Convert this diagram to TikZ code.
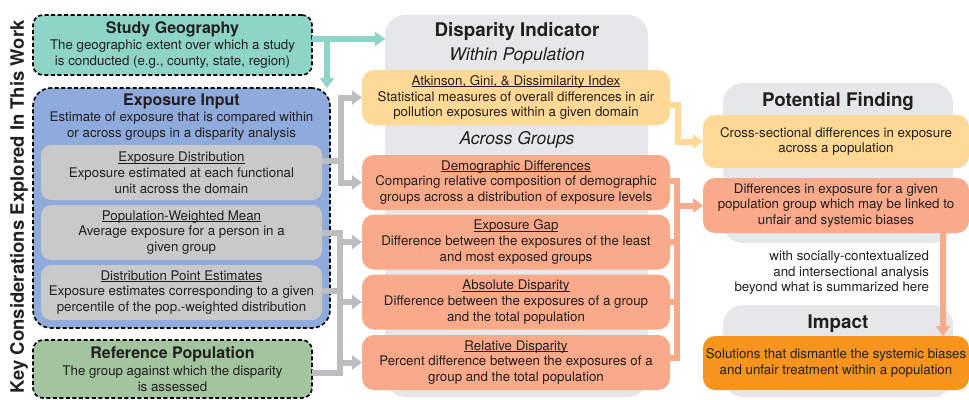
\documentclass[tikz,border=0pt]{standalone}
\usepackage{fontspec}
\setmainfont{TeX Gyre Heros}
\usetikzlibrary{arrows.meta}

\definecolor{geoteal}{HTML}{8ED4C7}
\definecolor{expblue}{HTML}{8FAADC}
\definecolor{subgray}{HTML}{C9C9C9}
\definecolor{refgreen}{HTML}{A2C49E}
\definecolor{panelgray}{HTML}{E6E7E8}
\definecolor{withinyellow}{HTML}{FFD995}
\definecolor{acrosssalmon}{HTML}{F8AA8A}
\definecolor{impactorange}{HTML}{F7941D}
\definecolor{arrowgray}{HTML}{BDBEC0}
\definecolor{inktext}{HTML}{231F20}

% underlined heading whose rule sits close to the baseline (depth dropped, height kept)
\newcommand{\headline}[1]{\underline{\raisebox{0pt}[\height][0pt]{#1}}}

\begin{document}
\begin{tikzpicture}[x=1pt,y=-1pt,
  every node/.style={inner sep=0pt, outer sep=0pt, align=center, text=inktext,
    font=\fontsize{13.3}{15.8}\selectfont},
  keybox/.style={draw=black, line width=1.6pt, dash pattern=on 4pt off 2.5pt,
    rounded corners=10pt},
  subbox/.style={fill=subgray, rounded corners=10pt, minimum width=281pt,
    minimum height=55pt},
  indbox/.style={rounded corners=12pt, minimum width=308pt, minimum height=55pt},
  findbox/.style={rounded corners=12pt, minimum width=266pt},
  panel/.style={fill=panelgray, rounded corners=20pt},
  paneltitle/.style={font=\fontsize{18.8}{22}\selectfont\bfseries},
  groupname/.style={font=\fontsize{17.5}{20}\selectfont\itshape},
  flow/.style={line width=6pt, line join=miter},
  flowtip/.style={flow, -{Triangle[width=14pt,length=10pt]}},
  tealarrow/.style={flowtip, draw=geoteal},
  grayline/.style={flow, draw=arrowgray},
  grayarrow/.style={flowtip, draw=arrowgray},
  salmonline/.style={flow, draw=acrosssalmon},
  salmonarrow/.style={flowtip, draw=acrosssalmon},
  yellowarrow/.style={flowtip, draw=withinyellow},
]
\useasboundingbox (0,0) rectangle (969,399);

% side label
\node[rotate=90, font=\fontsize{18.5}{22}\selectfont\bfseries] (sidelabel) at (19,207)
  {Key Considerations Explored In This Work};

% key considerations
\node[keybox, fill=geoteal, minimum width=279pt, minimum height=60pt] (geo) at (172.5,45)
  {{\fontsize{16}{19}\selectfont\bfseries Study Geography}\\[1pt]
   The geographic extent over which a study\\is conducted (e.g., county, state, region)};

\node[keybox, fill=expblue, rounded corners=18pt, minimum width=297pt, minimum height=240pt]
  (expin) at (181.5,208) {};
\node (expinlabel) at (181.5,117)
  {{\fontsize{16}{19}\selectfont\bfseries Exposure Input}\\[1pt]
   Estimate of exposure that is compared within\\or across groups in a disparity analysis};
\node[subbox] (expdist) at (181.5,172.5)
  {\headline{Exposure Distribution}\\Exposure estimated at each functional\\unit across the domain};
\node[subbox] (pwm) at (181.5,232.5)
  {\headline{Population-Weighted Mean}\\Average exposure for a person in a\\given group};
\node[subbox] (dpe) at (181.5,292.5)
  {\headline{Distribution Point Estimates}\\Exposure estimates corresponding to a given\\percentile of the pop.-weighted distribution};

\node[keybox, fill=refgreen, minimum width=279pt, minimum height=58pt] (refpop) at (172.5,369)
  {{\fontsize{16}{19}\selectfont\bfseries Reference Population}\\[1pt]
   The group against which the disparity\\is assessed};

% disparity indicators
\node[panel, minimum width=263pt, minimum height=382pt] (dispanel) at (516.5,206) {};
\node[paneltitle] (disptitle) at (517,32) {Disparity Indicator};
\node[groupname] (within) at (517,56) {Within Population};
\node[groupname] (across) at (517,140) {Across Groups};

\node[indbox, fill=withinyellow] (atk) at (516,97.5)
  {\headline{Atkinson, Gini, \& Dissimilarity Index}\\Statistical measures of overall differences in air\\pollution exposures within a given domain};
\node[indbox, fill=acrosssalmon] (demo) at (516,182.5)
  {\headline{Demographic Differences}\\Comparing relative composition of demographic\\groups across a distribution of exposure levels};
\node[indbox, fill=acrosssalmon] (gap) at (516,242)
  {\headline{Exposure Gap}\\Difference between the exposures of the least\\and most exposed groups};
\node[indbox, fill=acrosssalmon] (abs) at (516,302)
  {\headline{Absolute Disparity}\\Difference between the exposures of a group\\and the total population};
\node[indbox, fill=acrosssalmon] (rel) at (516,362.5)
  {\headline{Relative Disparity}\\Percent difference between the exposures of a\\group and the total population};

% findings and impact
\node[panel, minimum width=230pt, minimum height=160pt] (findpanel) at (838,163) {};
\node[paneltitle] (findtitle) at (838,102) {Potential Finding};
\node[findbox, fill=withinyellow, minimum height=53pt] (cross) at (836,141.5)
  {Cross-sectional differences in exposure\\across a population};
\node[findbox, fill=acrosssalmon, minimum height=55pt] (diff) at (836,205.5)
  {Differences in exposure for a given\\population group which may be linked to\\unfair and systemic biases};

\node[anchor=east, align=right, font=\fontsize{13.3}{15.5}\selectfont] (context) at (929,273)
  {with socially-contextualized\\and intersectional analysis\\beyond what is summarized here};

\node[panel, minimum width=230pt, minimum height=92pt] (impactpanel) at (838,351) {};
\node[paneltitle] (impacttitle) at (838,324) {Impact};
\node[findbox, fill=impactorange, minimum height=54pt] (sol) at (836,363)
  {Solutions that dismantle the systemic biases\\and unfair treatment within a population};

% connectors: study geography
\coordinate (tealsplit) at (327,39);
\draw[tealarrow] ([yshift=6pt]geo.east) -- ([yshift=6pt]geo.east -| dispanel.west);
\draw[tealarrow] ([yshift=3pt]tealsplit) -- (tealsplit |- expin.north);

% connectors: exposure input to indicators
\draw[grayarrow] ([yshift=12pt]expdist.east) -| ([xshift=-21pt]atk.west) -- (atk.west);
\draw[grayarrow] ([yshift=12pt]expdist.east) -| ([xshift=-21pt]demo.west) -- (demo.west);

\coordinate (lowtrunk) at (340,0);
\coordinate (refport) at ([yshift=-4pt]refpop.east);
\coordinate (dpeport) at ([yshift=2pt]dpe.east);
\draw[grayline] (pwm.east) -| (lowtrunk |- refport) -- (refport);
\draw[grayline] (dpeport) -- (dpeport -| lowtrunk);
\draw[grayarrow] (gap.west -| lowtrunk) -- (gap.west);
\draw[grayarrow] (abs.west -| lowtrunk) -- (abs.west);
\draw[grayarrow] (rel.west -| lowtrunk) -- (rel.west);

% connectors: indicators to findings
\draw[yellowarrow] ([yshift=-7pt]atk.east) -| ([xshift=-25pt]cross.west) -- (cross.west);

\coordinate (saltrunk) at (677,0);
\coordinate (demoport) at ([yshift=2pt]demo.east);
\coordinate (relport) at ([yshift=5pt]rel.east);
\draw[salmonline] (demoport) -| (saltrunk |- relport) -- (relport);
\draw[salmonline] (gap.east) -- (gap.east -| saltrunk);
\draw[salmonline] (abs.east) -- (abs.east -| saltrunk);
\draw[salmonarrow] (diff.west -| saltrunk) -- (diff.west);

% finding to impact
\draw[salmonarrow] ([xshift=107pt]diff.south) -- ([xshift=107pt]sol.north);
\end{tikzpicture}
\end{document}
